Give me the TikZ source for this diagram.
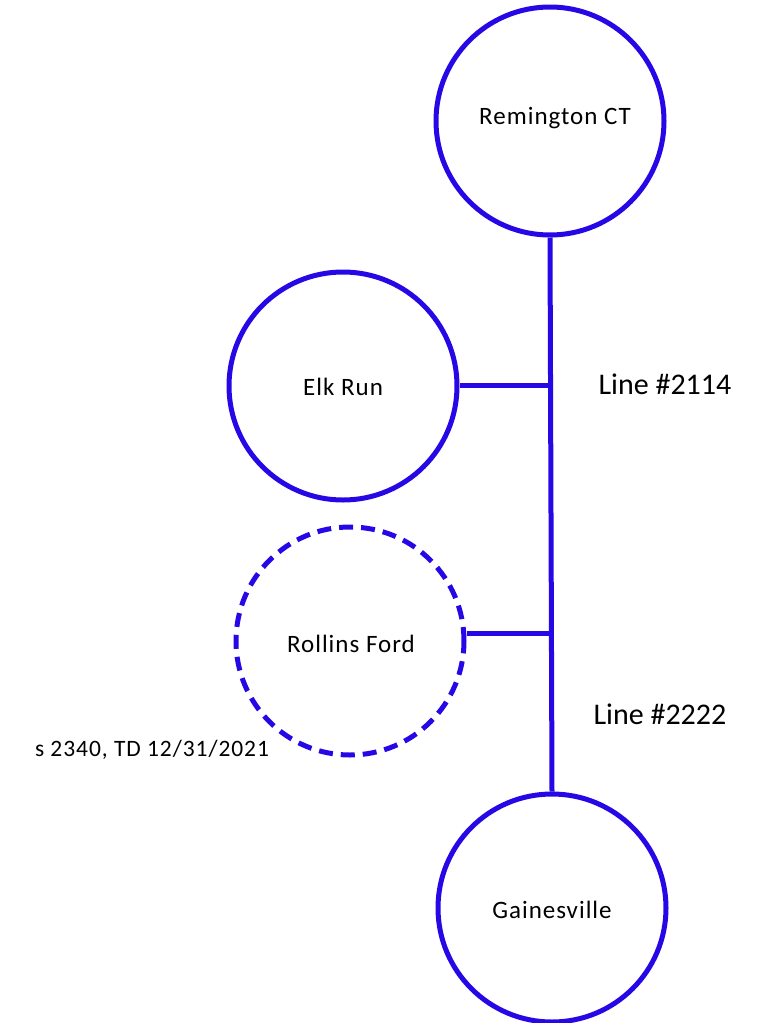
\documentclass[tikz,border=0pt]{standalone}
\usepackage{fontspec}
\setmainfont{Carlito}
\newfontfamily\spacedfont[LetterSpace=4]{Carlito}
\definecolor{lineblue}{RGB}{38,8,230}
\begin{document}
\begin{tikzpicture}[x=1pt,y=-1pt,
  station/.style={circle,draw=lineblue,line width=5pt,minimum size=228pt,inner sep=0pt},
  retired/.style={station,dash pattern=on 14pt off 8pt},
  conn/.style={draw=lineblue,line width=5pt},
  stnname/.style={inner sep=0pt,font={\spacedfont\fontsize{25}{30}\selectfont}},
  lbl/.style={font={\fontsize{30}{36}\selectfont},inner sep=0pt},
  note/.style={font={\spacedfont\fontsize{23.5}{28}\selectfont},inner sep=0pt}]
\useasboundingbox (0,0) rectangle (759,1023);
\node[station] (rem) at (550,121) {};
\node[station] (elk) at (343,386) {};
\node[retired] (rol) at (350,641) {};
\node[station] (gain) at (552,908) {};
\node[stnname] (remt) at (555,118) {Remington CT};
\node[stnname] (elkt) at (343,387) {Elk Run};
\node[stnname] (rolt) at (351,644) {Rollins Ford};
\node[stnname] (gaint) at (552,910) {Gainesville};
\coordinate (j1) at (550,385);
\coordinate (j2) at (551,633);
\draw[conn] (rem.south) -- (gain.north);
\draw[conn] (elk.east |- j1) -- (j1);
\draw[conn] (rol.east |- j2) -- (j2);
\node[lbl] (l1) at (665,384) {Line \#2114};
\node[lbl] (l2) at (660,714) {Line \#2222};
\node[note] (n1) at (152,750) {s 2340, TD 12/31/2021};
\end{tikzpicture}
\end{document}
